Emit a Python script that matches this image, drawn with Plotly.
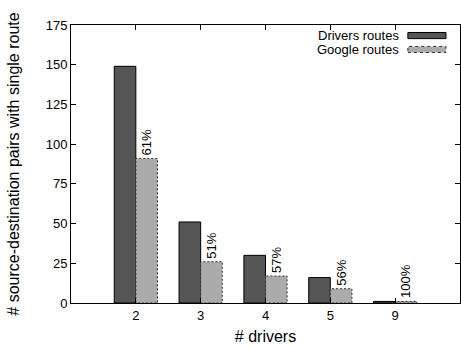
import plotly.graph_objects as go

# Number of source-destination pairs that have a single route, by driver count
driver_counts = ["2", "3", "4", "5", "9"]
drivers_routes = [149, 51, 30, 16, 1]
google_routes = [91, 26, 17, 9, 1]
y_ticks = [0, 25, 50, 75, 100, 125, 150, 175]

pos = list(range(len(driver_counts)))
bw = 1 / 3
pct_labels = [f"{round(100 * g / d)}%" for g, d in zip(google_routes, drivers_routes)]

FONT = "Liberation Sans, Arial, sans-serif"
DARK = "#555555"
LIGHT = "#ababab"

fig = go.Figure()

fig.add_trace(go.Bar(
    x=pos, y=drivers_routes, width=bw, offset=-bw,
    marker=dict(color=DARK, line=dict(color="black", width=1)),
    showlegend=False, hoverinfo="skip",
))

fig.add_trace(go.Bar(
    x=pos, y=google_routes, width=bw, offset=0,
    marker=dict(color=LIGHT, line=dict(width=0)),
    text=pct_labels, textposition="outside", textangle=-90,
    constraintext="none", cliponaxis=False,
    textfont=dict(family=FONT, size=13, color="black"),
    showlegend=False, hoverinfo="skip",
))

# dashed outlines around the Google bars
ox, oy = [], []
for p, v in zip(pos, google_routes):
    ox += [p, p, p + bw, p + bw, p, None]
    oy += [0, v, v, 0, 0, None]
fig.add_trace(go.Scatter(
    x=ox, y=oy, mode="lines",
    line=dict(color="#333333", width=1, dash="2px,2px"),
    showlegend=False, hoverinfo="skip", cliponaxis=False,
))

# legend: right-aligned text followed by a swatch
legend_rows = [
    ("Drivers routes", DARK, "black", "solid", 0.962),
    ("Google routes", LIGHT, "#333333", "dot", 0.912),
]
for label, fill, edge, dash, yc in legend_rows:
    fig.add_annotation(
        xref="paper", yref="paper", x=0.848, y=yc, text=label,
        showarrow=False, xanchor="right", yanchor="middle",
        font=dict(family=FONT, size=13, color="black"),
    )
    fig.add_shape(
        type="rect", xref="paper", yref="paper",
        x0=0.866, x1=0.964, y0=yc - 0.011, y1=yc + 0.011,
        fillcolor=fill, line=dict(color=edge, width=1, dash=dash),
    )

axis_common = dict(
    showline=True, linecolor="black", linewidth=1, mirror="ticks",
    ticks="inside", ticklen=5, tickcolor="black", tickwidth=1,
    showgrid=False, zeroline=False,
    tickfont=dict(family=FONT, size=13, color="black"),
)

fig.update_xaxes(
    range=[-1, 5], tickvals=pos, ticktext=driver_counts,
    title=dict(text="# drivers", font=dict(family=FONT, size=16, color="black"), standoff=9),
    **axis_common,
)
fig.update_yaxes(
    range=[0, 175], tickvals=y_ticks,
    title=dict(text="# source-destination pairs with single route",
               font=dict(family=FONT, size=16, color="black"), standoff=22),
    **axis_common,
)

fig.update_layout(
    width=461, height=347,
    margin=dict(l=71, r=1, t=25, b=44),
    paper_bgcolor="white", plot_bgcolor="white",
    barmode="overlay", showlegend=False,
)

fig.write_html("out.html")
